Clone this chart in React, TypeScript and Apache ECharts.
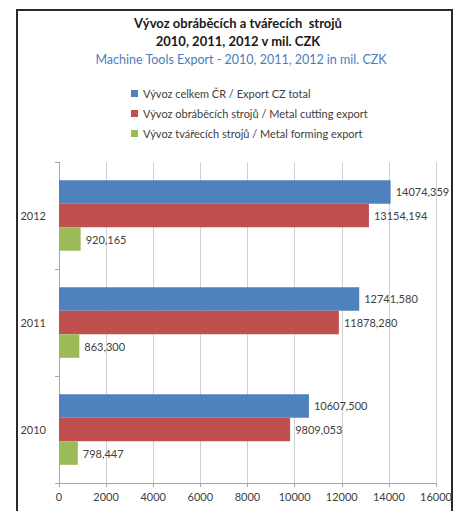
import React, { useEffect, useRef } from "react";
import * as echarts from "echarts";

const categories = ["2012", "2011", "2010"];
const seriesNames = [
  "Vývoz celkem ČR / Export CZ total",
  "Vývoz obráběcích strojů / Metal cutting export",
  "Vývoz tvářecích strojů / Metal forming export",
];
const totalExport = [14074.359, 12741.58, 10607.5];
const cuttingExport = [13154.194, 11878.28, 9809.053];
const formingExport = [920.165, 863.3, 798.447];
const colors = ["#4F81BD", "#C0504D", "#9BBB59"];

const FONT = "Lato, 'Open Sans', sans-serif";

export default function App() {
  const ref = useRef<HTMLDivElement>(null);
  useEffect(() => {
    if (!ref.current) return;
    const chart = echarts.init(ref.current, undefined, { renderer: "svg" });
    const fmt = (p: any) => Number(p.value).toFixed(3).replace(".", ",");
    const mk = (name: string, data: number[], color: string) => ({
      name,
      type: "bar",
      data,
      barGap: "0%",
      barCategoryGap: "34%",
      itemStyle: { color },
      label: {
        show: true,
        position: "right",
        distance: 5,
        formatter: fmt,
        color: "#404040",
        fontSize: 11,
        fontFamily: FONT,
      },
    });
    chart.setOption({
      animation: false,
      backgroundColor: "#ffffff",
      textStyle: { fontFamily: FONT },
      graphic: [
        {
          type: "rect",
          shape: { x: 17, y: 10, width: 435, height: 520 },
          style: { fill: "none", stroke: "#2a2a2a", lineWidth: 2 },
          z: 10,
        },
        {
          type: "text",
          x: 238,
          y: 16,
          style: {
            text: "Vývoz obráběcích a tvářecích  strojů",
            textAlign: "center",
            fontSize: 13,
            fontWeight: "bold",
            fontFamily: FONT,
            fill: "#1a1a1a",
          },
        },
        {
          type: "text",
          x: 238,
          y: 34,
          style: {
            text: "2010, 2011, 2012 v mil. CZK",
            textAlign: "center",
            fontSize: 13,
            fontWeight: "bold",
            fontFamily: FONT,
            fill: "#1a1a1a",
          },
        },
        {
          type: "text",
          x: 241,
          y: 53,
          style: {
            text: "Machine Tools Export - 2010, 2011, 2012 in mil. CZK",
            textAlign: "center",
            fontSize: 12.5,
            fontFamily: FONT,
            fill: "#4a7ebb",
          },
        },
      ],
      legend: {
        orient: "vertical",
        left: 126,
        top: 82,
        icon: "rect",
        itemWidth: 7,
        itemHeight: 7,
        itemGap: 7,
        textStyle: { fontSize: 11, color: "#404040", fontFamily: FONT, lineHeight: 13 },
        data: seriesNames,
      },
      grid: { left: 59, right: 22, top: 162, bottom: 28 },
      xAxis: {
        type: "value",
        min: 0,
        max: 16000,
        interval: 2000,
        axisLine: { show: true, lineStyle: { color: "#a6a6a6" } },
        axisTick: { show: true, length: 4, lineStyle: { color: "#a6a6a6" } },
        splitLine: { show: true, lineStyle: { color: "#d0d0d0" } },
        axisLabel: {
          color: "#404040",
          fontSize: 11,
          fontFamily: FONT,
          margin: 8,
          formatter: (v: number) => String(v),
        },
      },
      yAxis: {
        type: "category",
        inverse: true,
        data: categories,
        axisLine: { show: true, lineStyle: { color: "#a6a6a6" } },
        axisTick: { show: true, length: 4, lineStyle: { color: "#a6a6a6" } },
        axisLabel: { color: "#404040", fontSize: 11, fontFamily: FONT, margin: 13 },
      },
      series: [
        mk(seriesNames[0], totalExport, colors[0]),
        mk(seriesNames[1], cuttingExport, colors[1]),
        mk(seriesNames[2], formingExport, colors[2]),
      ],
    });
    return () => chart.dispose();
  }, []);
  return (
    <div
      ref={ref}
      style={{ position: "fixed", left: 0, top: 0, width: 458, height: 511 }}
    />
  );
}
